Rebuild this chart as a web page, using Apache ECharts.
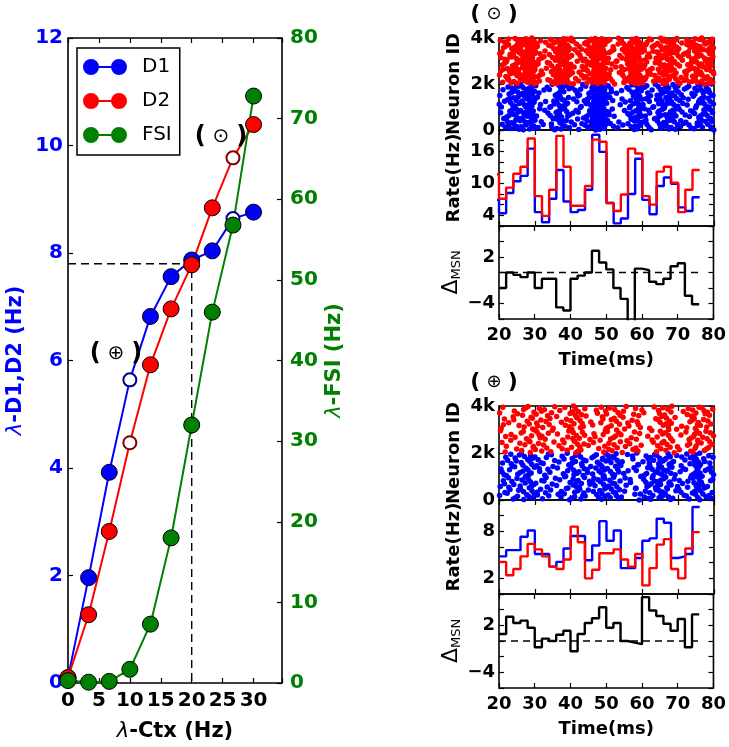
<!DOCTYPE html>
<html><head><meta charset="utf-8">
<script src="https://cdn.jsdelivr.net/npm/echarts@6/dist/echarts.min.js"></script>
<style>html,body{margin:0;padding:0;background:#fff}#c{width:729px;height:747px}</style>
</head><body><div id="c"></div>
<script>
// ---------------- data ----------------
// Left panel: firing rates vs cortical input
const ctxRate   = [0, 3.33, 6.67, 10, 13.33, 16.67, 20, 23.33, 26.67, 30];
const lambdaD1  = [0.1, 1.96, 3.92, 5.64, 6.82, 7.56, 7.87, 8.04, 8.64, 8.76];
const lambdaD2  = [0.1, 1.27, 2.82, 4.47, 5.92, 6.96, 7.78, 8.84, 9.77, 10.39];
const lambdaFSI = [0.3, 0.1, 0.2, 1.7, 7.3, 18.0, 32.0, 46.0, 56.8, 72.8];
const openMarkerIdx = [3, 8];          // highlighted operating points (open circles)
const refCtx = 20, refLevel = 7.8;     // dashed guide lines

// Right panels: 2 ms bins, step start times (last entry = end of last bin)
const binEdges = [20,22,24,26,28,30,32,34,36,38,40,42,44,46,48,50,52,54,56,58,60,62,64,66,68,70,72,74,76];
// (⊙) panel
const rateD1Top = [4.4, 8.2, 10.4, 11.4, 16.5, 4.6, 2.7, 7.1, 12.5, 6.6, 4.6, 5.0, 8.8, 19.1, 15.9, 6.3, 2.5, 3.4, 8.0, 14.6, 6.9, 4.2, 9.5, 11.1, 9.9, 5.5, 4.8, 7.4];
const rateD2Top = [7.1, 9.2, 11.8, 13.1, 18.4, 7.6, 3.9, 8.8, 18.9, 13.1, 5.8, 5.8, 9.5, 18.2, 17.8, 6.3, 4.8, 7.9, 16.5, 15.6, 7.6, 6.0, 12.2, 13.1, 10.1, 4.6, 8.8, 12.5];
const prevRateTop = {d1: 6.9, d2: 11.7};   // bin ending at 20 ms (only its edge is visible)
const deltaTop  = [-2.0, 0.0, -0.3, -0.6, 0.0, -2.0, -0.8, -0.8, -4.5, -4.9, -0.8, -0.4, 0.0, 2.8, 1.3, 0.4, -2.0, -3.4, -8.0, 0.5, 0.3, -1.2, -1.5, -0.8, 0.8, 1.2, -3.0, -4.1];
// (⊕) panel
const rateD1Bot = [4.8, 5.6, 5.6, 7.3, 8.1, 5.1, 5.1, 3.5, 4.1, 5.8, 7.4, 7.4, 4.3, 6.2, 9.3, 6.8, 8.1, 3.3, 3.3, 4.6, 6.8, 7.1, 9.6, 9.1, 4.6, 4.8, 5.1, 11.1];
const rateD2Bot = [4.1, 2.4, 3.2, 4.8, 6.4, 5.7, 4.8, 3.5, 3.2, 4.4, 8.6, 6.6, 2.0, 3.1, 5.2, 5.2, 5.7, 4.4, 3.5, 5.1, 1.1, 3.3, 6.3, 7.0, 3.2, 2.0, 5.8, 7.9];
const deltaBot  = [0.9, 3.1, 2.3, 2.6, 1.7, -0.8, 0.3, 0.0, 0.8, 1.3, -1.3, 0.9, 2.3, 2.9, 4.3, 1.7, 2.3, 0.0, -0.2, -0.4, 5.6, 3.9, 3.2, 2.2, 1.3, 2.8, -0.8, 3.4];
// raster density (Hz) of the last two bins 76-80 ms, estimated from the dot density
const tailD1Top = [9, 9], tailD2Top = [11, 11], tailD1Bot = [6, 6], tailD2Bot = [5, 5];
const deltaRefSpan = [20, 76];

// ---------------- helpers ----------------
const FONT = 'DejaVu Sans';
const BLUE = '#0000ff', RED = '#ff0000', GREEN = '#008000';
const SPIKES_PER_HZ = 2.1;   // dots per Hz per bin per population in the raster

function stepData(vals, prev) {
  const d = [];
  if (prev !== undefined) d.push([binEdges[0] - 2, prev]);
  vals.forEach((v, i) => d.push([binEdges[i], v]));
  d.push([binEdges[binEdges.length - 1], vals[vals.length - 1]]);
  return d;
}
function halton(i, b) { let f = 1, r = 0; while (i > 0) { f /= b; r += f * (i % b); i = Math.floor(i / b); } return r; }
// spikes laid out deterministically (Halton sequence) inside each bin, count set by the read rate
function rasterData(rates, tail, base, offset) {
  const all = rates.concat(tail), pts = []; let k = offset;
  all.forEach((r, i) => {
    const n = Math.round(r * SPIKES_PER_HZ);
    for (let j = 0; j < n; j++, k++) {
      pts.push([binEdges[0] + 2 * i + 2 * halton(k + 1, 3), base + 2000 * halton(k + 1, 2)]);
    }
  });
  return pts;
}

const tick = {show: true, inside: true, length: 5, lineStyle: {color: '#000', width: 1.2}};
const noLine = {show: false, onZero: false};
const lblR = {fontFamily: FONT, fontSize: 18, fontWeight: 'bold', color: '#000'};

const grids = [
  {left: 68, top: 38, width: 214, height: 650},
  {left: 499, top: 38, width: 215, height: 92},
  {left: 499, top: 130, width: 215, height: 96},
  {left: 499, top: 226, width: 215, height: 93},
  {left: 499, top: 406, width: 215, height: 94},
  {left: 499, top: 500, width: 215, height: 94},
  {left: 499, top: 594, width: 215, height: 94}
].map(g => Object.assign({show: true, borderColor: '#000', borderWidth: 1.6, backgroundColor: 'rgba(0,0,0,0)'}, g));

const xAxes = [
  {type: 'value', gridIndex: 0, position: 'bottom', min: 0, max: 34.6, interval: 5,
   axisLine: noLine, axisTick: tick, splitLine: {show: false},
   axisLabel: Object.assign({}, lblR, {fontSize: 20, margin: 8, formatter: v => (Math.abs(v % 5) < 1e-9 ? String(v) : '')}),
   name: '{l|λ}-Ctx (Hz)', nameLocation: 'middle', nameGap: 38,
   nameTextStyle: {fontFamily: FONT, fontSize: 21, fontWeight: 'bold', color: '#000',
     rich: {l: {fontFamily: FONT, fontSize: 21, fontStyle: 'italic', fontWeight: 'normal', color: '#000'}}}},
  {type: 'value', gridIndex: 0, position: 'top', min: 0, max: 34.6, interval: 5,
   axisLine: noLine, axisTick: tick, splitLine: {show: false}, axisLabel: {show: false}}
];
const yAxes = [
  {type: 'value', gridIndex: 0, position: 'left', min: 0, max: 12, interval: 2,
   axisLine: noLine, axisTick: tick, splitLine: {show: false},
   axisLabel: {fontFamily: FONT, fontSize: 20, fontWeight: 'bold', color: BLUE, margin: 5},
   name: '{l|λ}-D1,D2 (Hz)', nameLocation: 'middle', nameGap: 42,
   nameTextStyle: {fontFamily: FONT, fontSize: 21, fontWeight: 'bold', color: BLUE,
     rich: {l: {fontFamily: FONT, fontSize: 21, fontStyle: 'italic', fontWeight: 'normal', color: BLUE}}}},
  {type: 'value', gridIndex: 0, position: 'right', min: 0, max: 80, interval: 10,
   axisLine: noLine, axisTick: tick, splitLine: {show: false},
   axisLabel: {fontFamily: FONT, fontSize: 20, fontWeight: 'bold', color: GREEN, margin: 8},
   name: '{l|λ}-FSI (Hz)', nameLocation: 'middle', nameGap: 42,
   nameTextStyle: {fontFamily: FONT, fontSize: 21, fontWeight: 'bold', color: GREEN,
     rich: {l: {fontFamily: FONT, fontSize: 21, fontStyle: 'italic', fontWeight: 'normal', color: GREEN}}}}
];

const minusFmt = v => (v < 0 ? '\u2212' + Math.abs(v) : String(v));
const yCfg = {
  raster: {min: 0, max: 4000, interval: 2000, fmt: v => (v === 0 ? '0' : (v / 1000) + 'k'), name: 'Neuron ID'},
  rateTop: {min: 2, max: 20, interval: 2, fmt: v => ((v - 4) % 6 === 0 ? String(v) : ''), name: 'Rate(Hz)'},
  rateBot: {min: 0, max: 12, interval: 2, fmt: v => ((v - 2) % 6 === 0 ? String(v) : ''), name: 'Rate(Hz)'},
  delta: {min: -6, max: 6, interval: 2, fmt: v => ((((v + 4) % 6) + 6) % 6 === 0 ? minusFmt(v) : ''), name: '{d|Δ}{s|MSN}'}
};
const rightKinds = ['raster', 'rateTop', 'delta', 'raster', 'rateBot', 'delta'];
rightKinds.forEach((kind, i) => {
  const g = i + 1, labelled = (kind === 'delta');
  xAxes.push({type: 'value', gridIndex: g, position: 'bottom', min: 20, max: 80, interval: 10,
    axisLine: noLine, axisTick: tick, splitLine: {show: false},
    axisLabel: labelled ? Object.assign({}, lblR, {margin: 7}) : {show: false},
    name: labelled ? 'Time(ms)' : '', nameLocation: 'middle', nameGap: 32, nameTextStyle: lblR});
  xAxes.push({type: 'value', gridIndex: g, position: 'top', min: 20, max: 80, interval: 10,
    axisLine: noLine, axisTick: tick, splitLine: {show: false}, axisLabel: {show: false}});
  const c = yCfg[kind];
  const nts = kind === 'delta'
    ? {fontFamily: FONT, color: '#000', rich: {d: {fontFamily: FONT, fontSize: 22, color: '#000'},
        s: {fontFamily: FONT, fontSize: 13, color: '#000', padding: [10, 0, 0, 0]}}}
    : lblR;
  yAxes.push({type: 'value', gridIndex: g, position: 'left', min: c.min, max: c.max, interval: c.interval,
    axisLine: noLine, axisTick: tick, splitLine: {show: false},
    axisLabel: Object.assign({}, lblR, {margin: 4, formatter: c.fmt}),
    name: c.name, nameLocation: 'middle', nameGap: 36, nameTextStyle: nts});
  yAxes.push({type: 'value', gridIndex: g, position: 'right', min: c.min, max: c.max, interval: c.interval,
    axisLine: noLine, axisTick: tick, splitLine: {show: false}, axisLabel: {show: false}});
});
const xi = (g) => 2 + (g - 1) * 2;
const yi = (g) => 2 + (g - 1) * 2;

function curve(name, ys, color, openEdge, yAxisIndex) {
  return {
    name, type: 'line', xAxisIndex: 0, yAxisIndex,
    data: ys.map((y, i) => {
      const item = {value: [ctxRate[i], y]};
      if (openEdge && openMarkerIdx.includes(i)) {
        item.symbolSize = 13;
        item.itemStyle = {color: '#fff', borderColor: openEdge, borderWidth: 2};
      }
      return item;
    }),
    symbol: 'circle', symbolSize: 16,
    lineStyle: {color, width: 2}, itemStyle: {color, borderColor: '#000', borderWidth: 1},
    emphasis: {disabled: true}, z: 3
  };
}
function step(g, vals, color, width, prev) {
  return {type: 'line', step: 'end', xAxisIndex: xi(g), yAxisIndex: yi(g), data: stepData(vals, prev),
    symbol: 'none', lineStyle: {color, width}, emphasis: {disabled: true}, clip: true, z: 3};
}
function raster(g, data, color) {
  return {type: 'scatter', xAxisIndex: xi(g), yAxisIndex: yi(g), data, symbolSize: 5.5,
    itemStyle: {color, opacity: 1}, emphasis: {disabled: true}, clip: true, z: 2};
}
function zeroRef(g) {
  return {type: 'line', xAxisIndex: xi(g), yAxisIndex: yi(g), data: deltaRefSpan.map(t => [t, 0]),
    symbol: 'none', lineStyle: {color: '#000', width: 1.3, type: [7, 5]}, z: 2};
}

const series = [
  {type: 'line', xAxisIndex: 0, yAxisIndex: 0, data: [[0, refLevel], [refCtx, refLevel], [refCtx, 0]],
   symbol: 'none', lineStyle: {color: '#000', width: 1.4, type: [8, 5]}, z: 2},
  curve('D1', lambdaD1, BLUE, '#00008b', 0),
  curve('D2', lambdaD2, RED, '#800000', 0),
  curve('FSI', lambdaFSI, GREEN, null, 1),
  raster(1, rasterData(rateD1Top, tailD1Top, 0, 0), BLUE),
  raster(1, rasterData(rateD2Top, tailD2Top, 2000, 5000), RED),
  step(2, rateD1Top, BLUE, 2.4, prevRateTop.d1),
  step(2, rateD2Top, RED, 2.4, prevRateTop.d2),
  zeroRef(3), step(3, deltaTop, '#000', 2.4),
  raster(4, rasterData(rateD1Bot, tailD1Bot, 0, 10000), BLUE),
  raster(4, rasterData(rateD2Bot, tailD2Bot, 2000, 15000), RED),
  step(5, rateD1Bot, BLUE, 2.4),
  step(5, rateD2Bot, RED, 2.4),
  zeroRef(6), step(6, deltaBot, '#000', 2.4)
];

function tag(x, y, sym, size) {
  return {type: 'text', x, y, z: 100, style: {
    text: '{p|(} {s|' + sym + '} {p|)}', align: 'center', verticalAlign: 'middle',
    font: 'bold ' + size + 'px "' + FONT + '"', fill: '#000',
    rich: {p: {fontFamily: FONT, fontSize: size + 4, fontWeight: 'bold', fill: '#000'},
           s: {fontFamily: FONT, fontSize: size, fontWeight: 'normal', fill: '#000'}}}};
}

const option = {
  animation: false,
  backgroundColor: '#fff',
  grid: grids, xAxis: xAxes, yAxis: yAxes, series,
  legend: {
    data: ['D1', 'D2', 'FSI'], orient: 'vertical', left: 77, top: 48,
    padding: [9, 8, 10, 6], itemWidth: 44, itemHeight: 16, itemGap: 14,
    icon: 'path://M0,8A8,8,0,1,1,16,8A8,8,0,1,1,0,8ZM15,7L29,7L29,9L15,9ZM28,8A8,8,0,1,1,44,8A8,8,0,1,1,28,8Z',
    itemStyle: {borderWidth: 0},
    textStyle: {fontFamily: FONT, fontSize: 20, color: '#000', padding: [0, 0, 0, 10]},
    borderColor: '#000', borderWidth: 1.5, backgroundColor: '#fff', selectedMode: false
  },
  graphic: [
    tag(221, 137, '⊙', 20),
    tag(116, 354, '⊕', 20),
    tag(494, 14, '⊙', 18),
    tag(494, 382, '⊕', 18)
  ]
};
const chart = echarts.init(document.getElementById('c'), null, {renderer: 'canvas', width: 729, height: 747});
chart.setOption(option);
</script></body></html>
